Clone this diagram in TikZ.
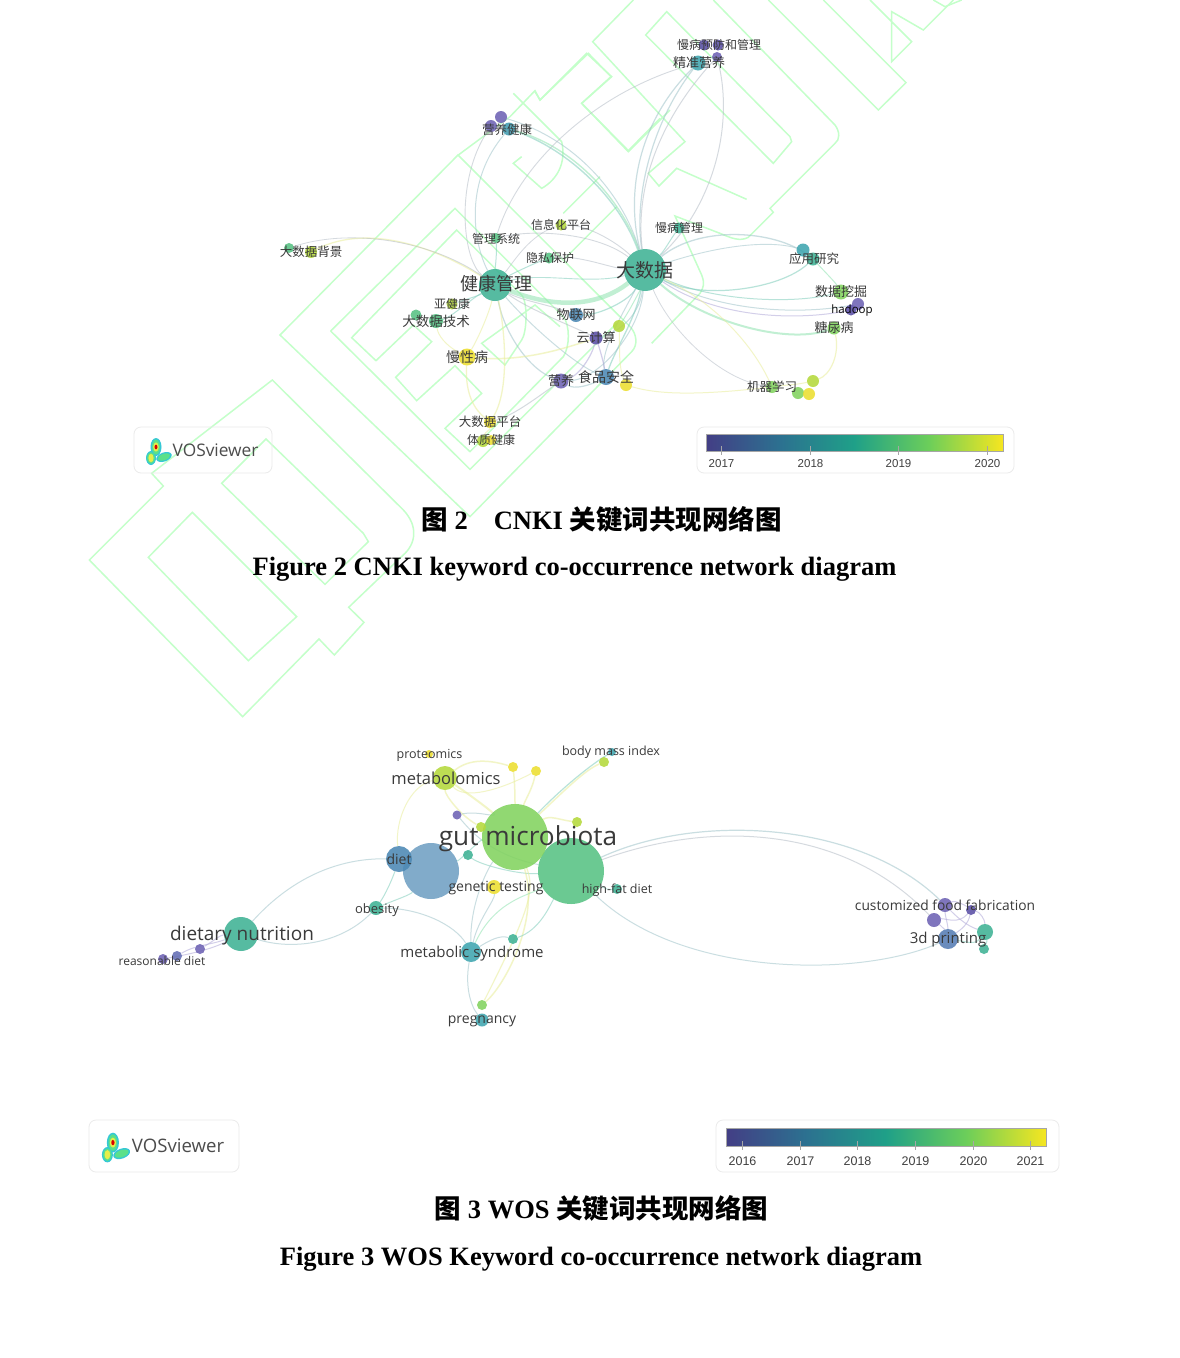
\documentclass[tikz,border=0pt]{standalone}
\usepackage{fontspec}
\setmainfont{Liberation Serif}
\newfontfamily\cjk{Noto Sans CJK SC}
\newfontfamily\latfont{Open Sans}
\newfontfamily\barfont{Liberation Sans}
\definecolor{wmk}{HTML}{C4FFCA}
\definecolor{vA}{HTML}{433E85}
\definecolor{vB}{HTML}{2C7190}
\definecolor{vC}{HTML}{1FA088}
\definecolor{vD}{HTML}{6CCE5A}
\definecolor{vE}{HTML}{F6E620}
\definecolor{cPur}{HTML}{6E63B4}
\definecolor{cDeep}{HTML}{5B4FA6}
\definecolor{cBlu}{HTML}{4C88B4}
\definecolor{cCya}{HTML}{3FA6B0}
\definecolor{cTea}{HTML}{3FB295}
\definecolor{cGrn}{HTML}{57C283}
\definecolor{cLgr}{HTML}{82D35F}
\definecolor{cYgr}{HTML}{B5D93C}
\definecolor{cYel}{HTML}{ECDF30}
\definecolor{txt}{HTML}{3A3A3A}
\definecolor{lkT}{HTML}{7FCDBB}
\definecolor{lkB}{HTML}{9FC3C9}
\definecolor{lkG}{HTML}{B4BCC6}
\definecolor{lkL}{HTML}{8FE3B0}
\definecolor{lkY}{HTML}{E9EE9A}
\definecolor{lkP}{HTML}{AFA8D8}
\definecolor{icCy}{HTML}{35C8D6}
\definecolor{icGr}{HTML}{5BE08A}
\definecolor{icYe}{HTML}{E6EE4A}
\pgfdeclarehorizontalshading{viridisbar}{100bp}{color(0bp)=(vA);color(25bp)=(vA);color(37.5bp)=(vB);color(50bp)=(vC);color(62.5bp)=(vD);color(75bp)=(vE);color(100bp)=(vE)}
\pgfdeclarelayer{wm}\pgfdeclarelayer{links}
\pgfsetlayers{wm,links,main}
\tikzset{
  wmline/.style={draw=wmk,line width=1.5pt,line join=miter},
  lk/.style={line width=#1,opacity=.55},
  lk/.default=1pt,
  bubble/.style={circle,inner sep=0pt,opacity=.88},
  panel/.style={draw=black!8,rounded corners=7pt,line width=.8pt},
  barframe/.style={draw=gray!70,line width=.6pt,shading=viridisbar},
  tickmark/.style={draw=gray!70,line width=.6pt},
  capt/.style={inner sep=0pt,font=\bfseries\fontsize{26.5}{26.5}\selectfont,text=black},
}
\newcommand\bub[4]{\node[bubble,fill=#4,minimum size=#3*2pt] (#1) at (#2) {};}
\newcommand\lblc[4]{\node[inner sep=0pt,text=txt,font=\cjk\fontsize{#3}{#3}\selectfont] (#1) at (#2) {#4};}
\newcommand\lble[4]{\node[inner sep=0pt,text=txt,font=\latfont\fontsize{#3}{#3}\selectfont] (#1) at (#2) {#4};}
\newcommand\lnk[6][lkT]{\draw[#1,lk=#2] (#3) .. controls (#4) and (#5) .. (#6);}
\newcommand\vosicon[3]{\begin{scope}[shift={(#1,#2)},scale=#3]
 \fill[icCy] (-1,-4) ellipse [x radius=5.5,y radius=9];
 \fill[icCy] (-6,7) ellipse [x radius=5,y radius=7];
 \fill[icCy,rotate around={20:(7,6)}] (7,6) ellipse [x radius=8,y radius=4.5];
 \fill[icGr] (-1,-4) ellipse [x radius=4,y radius=7.5];
 \fill[icGr] (-6,7) ellipse [x radius=3.8,y radius=5.8];
 \fill[icGr,rotate around={20:(7,6)}] (7,6) ellipse [x radius=6.5,y radius=3.2];
 \fill[icYe] (-1,-4) ellipse [x radius=2.8,y radius=4.6];
 \fill[icYe] (-6,7) ellipse [x radius=2.6,y radius=4.2];
 \fill[red!85!black] (-1,-4) ellipse [x radius=1.5,y radius=2.4];
\end{scope}}
\begin{document}
\begin{tikzpicture}[x=1pt,y=-1pt]
\useasboundingbox (0,0) rectangle (1179,1358);

% ---------- watermark
\begin{pgfonlayer}{wm}
\fill[white] (0,0) rectangle (1179,1358);
\clip (0,0) rectangle (1179,1358);
% lower-left glyph
\begin{scope}[shift={(80,370)},x=.33333pt,y=-.33333pt]
 \draw[wmline] (250,348)--(28,570)--(488,1040)--(717,807)--(763,855)--(852,757)--(806,712)--(975,550) .. controls (1010,515) and (1015,460) .. (960,410)--(577,30)--(215,310)--cycle;
 \draw[wmline] (337,427)--(205,562)--(505,872)--(650,740)--cycle;
 \draw[wmline] (558,207)--(425,340)--(735,643)--(865,515)--(850,490)--cycle;
\end{scope}
% middle glyph
\begin{scope}[shift={(270,170)},x=.33333pt,y=-.33333pt]
 \draw[wmline] (30,495)--(564,-45)--(1080,470) .. controls (1100,490) and (1105,525) .. (1085,545)--(600,1040)--cycle;
 \draw[wmline] (182,483)--(555,115)--(880,440) .. controls (900,465) and (900,530) .. (880,560)--(600,845)--(525,775)--(635,670)--(555,587)--(440,692)--(377,622)--(485,515)--(430,465)--(318,572)--(245,503)--(560,180)--(755,375) .. controls (775,400) and (770,490) .. (755,510)--(705,585)--(635,520)--(795,405)--(870,470);
 \draw[wmline] (182,483)--(600,898)--(1040,460);
 \draw[wmline] (880,130)--(990,20);
 \draw[wmline] (885,265)--(1040,110);
\end{scope}
% upper glyphs
\begin{scope}[shift={(270,20)},x=.33333pt,y=-.33333pt]
 \draw[wmline] (565,405)--(720,290)--(795,212)--(810,240)--(950,100)--(1025,170)--(935,250)--(1075,395)--(1200,270);
 \draw[wmline] (755,410)--(730,430)--(815,505) .. controls (860,480) and (890,430) .. (875,365)--(730,220);
\end{scope}
\begin{scope}[shift={(500,0)},x=.33333pt,y=-.33333pt]
 \draw[wmline] (400,0)--(278,125)--(555,425)--(445,520)--(477,558)--(530,505)--(740,598);
 \draw[wmline] (437,105)--(500,35)--(870,410)--(875,425)--(820,490)--cycle;
 \draw[wmline] (640,0)--(1005,375) .. controls (1020,395) and (1020,420) .. (1005,430)--(810,625)--(820,637)--(745,712) .. controls (720,725) and (695,715) .. (660,700)--(525,648)--(605,825) .. controls (615,850) and (610,865) .. (600,880)--(455,1030);
 \draw[wmline] (805,0)--(1135,330)--(1218,248)--(970,0);
 \draw[wmline] (1110,0)--(1235,125)--(1175,185)--(1175,35)--(1270,90)--(1360,0);
 \draw[wmline] (1300,0)--(1335,20)--(1385,0);
 \draw[wmline] (385,452)--(245,310)--(333,230)--(265,160)--(120,300)--(105,275);
 \draw[wmline] (385,452)--(480,355);
\end{scope}
\end{pgfonlayer}

% ---------- CNKI network: bubbles
\bub{dsj}{645,270}{21}{cTea}
\bub{jk}{495,285}{16}{cTea}
\bub{yy}{509,129}{6.5}{cCya!70!cBlu}
\bub{yya}{491,126}{6}{cPur}
\bub{yyb}{501,117}{6}{cPur}
\bub{mfa}{704,45}{5.5}{cDeep}
\bub{mfb}{718,45}{5.5}{cDeep}
\bub{mfc}{717,57}{5}{cPur}
\bub{jz}{698,63}{7.5}{cCya}
\bub{xxh}{561,225}{5.5}{cYgr}
\bub{glxt}{496,238}{5}{cGrn}
\bub{yssh}{549,258}{5.5}{cGrn}
\bub{mbgl}{679,228}{5.5}{cTea}
\bub{yja}{813,259}{6.5}{cTea}
\bub{yjb}{803,250}{6.5}{cCya}
\bub{sjwj}{841,292}{7.5}{cLgr}
\bub{hda}{851,310}{5.5}{cDeep}
\bub{hdb}{858,304}{6}{cPur}
\bub{tnb}{834,328}{6.5}{cLgr}
\bub{jqxx}{772,387}{6}{cLgr}
\bub{jqa}{813,381}{6}{cYgr}
\bub{jqb}{798,393}{6}{cLgr}
\bub{jqc}{809,394}{6}{cYel}
\bub{bga}{289,248}{5}{cGrn}
\bub{bgb}{311,252}{6}{cYgr}
\bub{yjk}{452,304}{5.5}{cYgr}
\bub{jsa}{436,321}{7}{cGrn}
\bub{jsb}{416,315}{5.5}{cGrn}
\bub{mxb}{467,357}{8.5}{cYel}
\bub{wlw}{576,315}{7}{cBlu}
\bub{yjs}{596,338}{6.5}{cDeep}
\bub{yjy}{619,326}{6}{cYgr}
\bub{spa}{606,377}{8}{cBlu}
\bub{spy}{626,385}{6}{cYel}
\bub{yya2}{561,381}{7.5}{cPur}
\bub{pta}{490,422}{6}{cYel}
\bub{tza}{483,441}{6}{cYgr}
\bub{tzb}{491,440}{5}{cYel}

% ---------- CNKI links
\begin{pgfonlayer}{links}
\lnk[lkL]{4.5pt}{jk}{560,310}{600,305}{dsj}
\lnk[lkT]{1.4pt}{yy}{570,150}{620,200}{dsj}
\lnk[lkL]{1.4pt}{yy}{585,150}{628,215}{dsj}
\lnk[lkB]{1pt}{yyb}{580,140}{625,200}{dsj}
\lnk[lkB]{1pt}{yy}{465,180}{472,240}{jk}
\lnk[lkG]{.9pt}{yya}{455,180}{462,260}{jk}
\lnk[lkB]{1.2pt}{jz}{640,120}{625,190}{dsj}
\lnk[lkB]{1.2pt}{jz}{650,125}{634,200}{dsj}
\lnk[lkG]{1pt}{mfc}{650,130}{636,200}{dsj}
\lnk[lkG]{.9pt}{jz}{600,90}{520,160}{glxt}
\lnk[lkG]{1pt}{mfc}{735,130}{710,210}{dsj}
\lnk[lkB]{1.3pt}{dsj}{700,225}{775,230}{yja}
\lnk[lkB]{.9pt}{dsj}{720,245}{770,240}{yjb}
\lnk[lkT]{1.2pt}{dsj}{700,300}{780,290}{yja}
\lnk[lkL]{1pt}{yja}{825,272}{835,282}{sjwj}
\lnk[lkP]{1pt}{dsj}{720,320}{800,320}{hda}
\lnk[lkB]{1pt}{dsj}{720,312}{800,315}{hdb}
\lnk[lkL]{2pt}{dsj}{700,320}{785,345}{tnb}
\lnk[lkT]{1pt}{dsj}{710,300}{790,305}{sjwj}
\lnk[lkG]{.8pt}{dsj}{670,330}{720,380}{jqxx}
\lnk[lkY]{1pt}{dsj}{720,305}{755,350}{jqxx}
\lnk[lkY]{1.2pt}{tnb}{840,355}{830,375}{jqa}
\lnk[lkY]{1pt}{jqxx}{700,395}{660,395}{spy}
\lnk[lkY]{1pt}{jqxx}{785,385}{795,385}{jqa}
\lnk[lkG]{.9pt}{dsj}{620,245}{590,225}{xxh}
\lnk[lkG]{.9pt}{dsj}{600,235}{540,228}{glxt}
\lnk[lkG]{.9pt}{dsj}{610,268}{580,255}{yssh}
\lnk[lkT]{.9pt}{dsj}{590,285}{540,272}{jk}
\lnk[lkT]{1pt}{mbgl}{670,240}{665,250}{dsj}
\lnk[lkT]{1.2pt}{dsj}{630,300}{600,315}{wlw}
\lnk[lkB]{1pt}{dsj}{640,310}{625,330}{yjs}
\lnk[lkT]{1.3pt}{dsj}{635,320}{615,350}{spa}
\lnk[lkB]{1pt}{dsj}{625,310}{600,350}{spa}
\lnk[lkL]{1pt}{dsj}{640,290}{630,310}{yjy}
\lnk[lkB]{1pt}{dsj}{640,330}{600,380}{yya2}
\lnk[lkT]{1pt}{jk}{495,270}{497,255}{glxt}
\lnk[lkT]{1pt}{jk}{510,275}{530,265}{yssh}
\lnk[lkG]{.8pt}{jk}{515,260}{530,235}{xxh}
\lnk[lkT]{1pt}{jk}{480,295}{465,300}{yjk}
\lnk[lkT]{1pt}{jk}{470,300}{450,318}{jsa}
\lnk[lkY]{1pt}{jk}{490,310}{480,335}{mxb}
\lnk[lkY]{1.3pt}{jk}{440,250}{370,222}{bgb}
\lnk[lkG]{.8pt}{jk}{430,240}{350,228}{bga}
\lnk[lkB]{1.2pt}{jk}{505,335}{530,370}{yya2}
\lnk[lkG]{1pt}{jk}{520,300}{550,305}{wlw}
\lnk[lkG]{1pt}{jk}{530,310}{570,325}{yjs}
\lnk[lkB]{1pt}{jk}{530,325}{575,365}{spa}
\lnk[lkY]{1.5pt}{mxb}{520,362}{560,350}{yjs}
\lnk[lkY]{1.3pt}{mxb}{465,395}{475,410}{pta}
\lnk[lkY]{1.3pt}{jk}{505,330}{510,390}{pta}
\lnk[lkY]{1pt}{mxb}{445,345}{438,335}{jsa}
\lnk[lkG]{1pt}{yya2}{540,395}{515,415}{pta}
\lnk[lkP]{1.2pt}{yjs}{592,355}{580,375}{yya2}
\lnk[lkP]{1.2pt}{yjs}{600,350}{603,360}{spa}
\lnk[lkB]{1.2pt}{yya2}{575,390}{590,385}{spa}
\lnk[lkY]{1pt}{spy}{618,365}{620,345}{yjy}
\lnk[lkY]{1pt}{pta}{490,430}{485,432}{tza}
\end{pgfonlayer}

% ---------- CNKI labels
\lblc{tdsj}{645,270}{19}{大数据}
\lblc{tjk}{496,284}{18}{健康管理}
\lblc{tyy}{507,130}{12.5}{营养健康}
\lblc{tmf}{719,45}{12}{慢病预防和管理}
\lblc{tjz}{699,63}{13}{精准营养}
\lblc{txxh}{561,225}{12}{信息化平台}
\lblc{tgl}{496,239}{12}{管理系统}
\lblc{tys}{550,258}{12}{隐私保护}
\lblc{tmb}{679,228}{12}{慢病管理}
\lblc{tyj}{814,259}{12.5}{应用研究}
\lblc{tsj}{841,292}{13}{数据挖掘}
\node[inner sep=0pt,text=black,font=\latfont\fontsize{11.5}{11.5}\selectfont] (thd) at (852,311) {hadoop};
\lblc{ttn}{834,328}{13}{糖尿病}
\lblc{tjq}{772,387}{12.5}{机器学习}
\lblc{tbg}{311,252}{12.5}{大数据背景}
\lblc{tyjk}{452,304}{12}{亚健康}
\lblc{tjs}{436,321}{13.5}{大数据技术}
\lblc{tmx}{467,357}{14}{慢性病}
\lblc{twl}{576,315}{13}{物联网}
\lblc{tyjs}{596,338}{13}{云计算}
\lblc{tsp}{606,377}{14}{食品安全}
\lblc{tyy2}{561,381}{13}{营养}
\lblc{tpt}{490,422}{12.5}{大数据平台}
\lblc{ttz}{491,440}{12}{体质健康}

% ---------- CNKI panels
\node[panel,minimum width=138pt,minimum height=46pt,inner sep=0pt] (logoa) at (203,450) {};
\vosicon{157}{451}{1}
\node[inner sep=0pt,text=black!70,font=\latfont\fontsize{17.3}{17.3}\selectfont] (vosa) at (215.5,450) {VOSviewer};
\node[panel,minimum width=317pt,minimum height=46pt,inner sep=0pt] (legenda) at (855.5,450) {};
\node[barframe,minimum width=297pt,minimum height=17pt,inner sep=0pt] (bara) at (854.5,442.5) {};
\foreach \xx/\yr in {721/2017,810/2018,898/2019,987/2020}{
 \draw[tickmark] (\xx,446)--(\xx,455);
 \node[inner sep=0pt,text=black!75,font=\barfont\fontsize{11.5}{11.5}\selectfont] (ya\yr) at (\xx+.5,464) {\yr};
}

% ---------- captions
\node[capt] (capa) at (601.5,519.5) {{\cjk 图} 2\hspace{26pt}CNKI {\cjk 关键词共现网络图}};
\node[capt] (capb) at (574.5,569) {Figure 2 CNKI keyword co-occurrence network diagram};
\node[capt] (capc) at (601.5,1208.5) {{\cjk 图} 3 WOS {\cjk 关键词共现网络图}};
\node[capt] (capd) at (601,1259) {Figure 3 WOS Keyword co-occurrence network diagram};

% ---------- WOS bubbles
\bub{hf}{571,871}{33}{cGrn}
\bub{bl}{431,871}{28}{cBlu!80!white}
\bub{gut}{515,837}{33}{cLgr}
\bub{meta}{445,778}{12}{cYgr}
\bub{prot}{429,754}{4}{cYel}
\bub{bma}{612,752}{4}{cCya}
\bub{bmb}{604,762}{5}{cYgr}
\bub{ya}{513,767}{5}{cYel}
\bub{yb}{536,771}{5}{cYel}
\bub{yc}{577,822}{5}{cYgr}
\bub{pb}{457,815}{4.5}{cPur}
\bub{ga}{481,827}{5}{cYgr}
\bub{gb}{468,855}{5}{cTea}
\bub{diet}{399,859}{13}{cBlu}
\bub{gen}{494,887}{7}{cYel}
\bub{hft}{617,889}{5}{cTea}
\bub{ob}{376,908}{7}{cTea}
\bub{dn}{241,934}{17}{cTea}
\bub{rda}{163,959}{5}{cPur}
\bub{rdb}{177,956}{5}{cPur!70!cBlu}
\bub{rdc}{200,949}{5}{cPur}
\bub{ms}{471,952}{10}{cCya}
\bub{msb}{513,939}{5}{cTea}
\bub{pg}{482,1020}{6.5}{cCya}
\bub{pgb}{482,1005}{5}{cLgr}
\bub{cfa}{945,905}{7}{cPur}
\bub{cfb}{934,920}{7}{cPur}
\bub{cfc}{971,910}{5}{cDeep}
\bub{dp}{948,939}{10}{cBlu!70!cPur}
\bub{dpb}{985,932}{8}{cTea}
\bub{dpc}{984,949}{5}{cTea}

% ---------- WOS links
\begin{pgfonlayer}{links}
\lnk[lkY]{2pt}{gut}{490,810}{470,795}{meta}
\lnk[lkY]{1.5pt}{gut}{515,800}{515,785}{ya}
\lnk[lkY]{1.5pt}{gut}{525,800}{532,790}{yb}
\lnk[lkY]{1.5pt}{gut}{550,815}{560,820}{yc}
\lnk[lkY]{1.5pt}{meta}{470,758}{490,760}{ya}
\lnk[lkY]{1pt}{meta}{465,800}{500,790}{yb}
\lnk[lkY]{1.5pt}{meta}{445,795}{460,815}{ga}
\lnk[lkT]{1.2pt}{gut}{560,790}{590,765}{bma}
\lnk[lkY]{1.5pt}{gut}{565,790}{585,770}{bmb}
\lnk[lkY]{1pt}{diet}{395,820}{410,785}{meta}
\lnk[lkB]{1pt}{diet}{330,858}{285,885}{dn}
\lnk[lkT]{1pt}{bl}{410,895}{395,900}{ob}
\lnk[lkT]{1pt}{diet}{392,880}{385,895}{ob}
\lnk[lkB]{1pt}{ob}{340,945}{290,950}{dn}
\lnk[lkB]{1pt}{ob}{420,908}{455,925}{ms}
\lnk[lkB]{1pt}{pb}{480,810}{500,820}{gut}
\lnk[lkB]{1pt}{pb}{470,830}{490,855}{hf}
\lnk[lkY]{1.2pt}{ga}{495,835}{500,835}{gut}
\lnk[lkT]{1pt}{gb}{480,865}{520,875}{hf}
\lnk[lkT]{1pt}{bl}{460,860}{480,840}{gut}
\lnk[lkY]{1.5pt}{gut}{540,920}{505,985}{pgb}
\lnk[lkY]{1.2pt}{gut}{535,890}{530,910}{pgb}
\lnk[lkB]{1pt}{ms}{465,985}{470,1005}{pg}
\lnk[lkB]{1pt}{ms}{470,900}{490,865}{gut}
\lnk[lkB]{1pt}{ms}{478,920}{495,900}{gen}
\lnk[lkB]{1pt}{ms}{490,940}{500,935}{msb}
\lnk[lkT]{1pt}{msb}{540,930}{550,905}{hf}
\lnk[lkL]{1pt}{ms}{495,900}{530,895}{hf}
\lnk[lkB]{1.2pt}{hf}{700,812}{860,822}{cfa}
\lnk[lkG]{1pt}{hf}{705,822}{840,822}{cfb}
\lnk[lkB]{1pt}{hf}{680,978}{860,978}{dp}
\lnk[lkT]{.8pt}{hf}{600,885}{605,890}{hft}
\lnk[lkP]{1pt}{dn}{220,935}{215,940}{rdc}
\lnk[lkP]{1pt}{dn}{210,945}{195,945}{rdb}
\lnk[lkP]{1pt}{dn}{210,950}{185,955}{rda}
\lnk[lkP]{1pt}{cfa}{955,915}{965,925}{dpb}
\lnk[lkP]{1pt}{cfa}{955,900}{965,905}{cfc}
\lnk[lkP]{1pt}{cfb}{945,918}{958,925}{cfc}
\lnk[lkP]{1pt}{cfb}{940,925}{945,930}{dp}
\lnk[lkP]{1pt}{cfa}{945,915}{948,925}{dp}
\lnk[lkP]{1pt}{cfc}{980,912}{985,920}{dpb}
\lnk[lkP]{1pt}{cfc}{968,925}{960,930}{dp}
\lnk[lkT]{1pt}{dpb}{975,945}{968,942}{dp}
\lnk[lkT]{1pt}{dpb}{987,940}{987,942}{dpc}
\end{pgfonlayer}

% ---------- WOS labels
\lble{tgut}{528,839}{26.2}{gut microbiota}
\lble{tmeta}{446,778}{16.5}{metabolomics}
\lble{tprot}{429.5,755}{12.5}{proteomics}
\lble{tbm}{611,752.5}{12.5}{body mass index}
\lble{tdiet}{399,859.5}{14}{diet}
\lble{tgen}{496,888.5}{14}{genetic testing}
\lble{thf}{617,890.5}{12.5}{high-fat diet}
\lble{tob}{377,910}{13}{obesity}
\lble{tdn}{242,936}{19}{dietary nutrition}
\lble{trd}{162,960.5}{12}{reasonable diet}
\lble{tms}{472,953.5}{15}{metabolic syndrome}
\lble{tpg}{482,1021}{14}{pregnancy}
\lble{tcf}{945,905.5}{13.8}{customized food fabrication}
\lble{tdp}{948,940}{15}{3d printing}

% ---------- WOS panels
\node[panel,minimum width=150pt,minimum height=52pt,inner sep=0pt] (logob) at (164,1146) {};
\vosicon{114}{1147}{1.1}
\node[inner sep=0pt,text=black!70,font=\latfont\fontsize{18.6}{18.6}\selectfont] (vosb) at (178,1146) {VOSviewer};
\node[panel,minimum width=343pt,minimum height=52pt,inner sep=0pt] (legendb) at (887.5,1146) {};
\node[barframe,minimum width=320pt,minimum height=18pt,inner sep=0pt] (barb) at (886,1137) {};
\foreach \xx/\yr in {742/2016,800/2017,857/2018,915/2019,973/2020,1030/2021}{
 \draw[tickmark] (\xx,1141)--(\xx,1150);
 \node[inner sep=0pt,text=black!75,font=\barfont\fontsize{12.5}{12.5}\selectfont] (yb\yr) at (\xx+.5,1161) {\yr};
}
\end{tikzpicture}
\end{document}
